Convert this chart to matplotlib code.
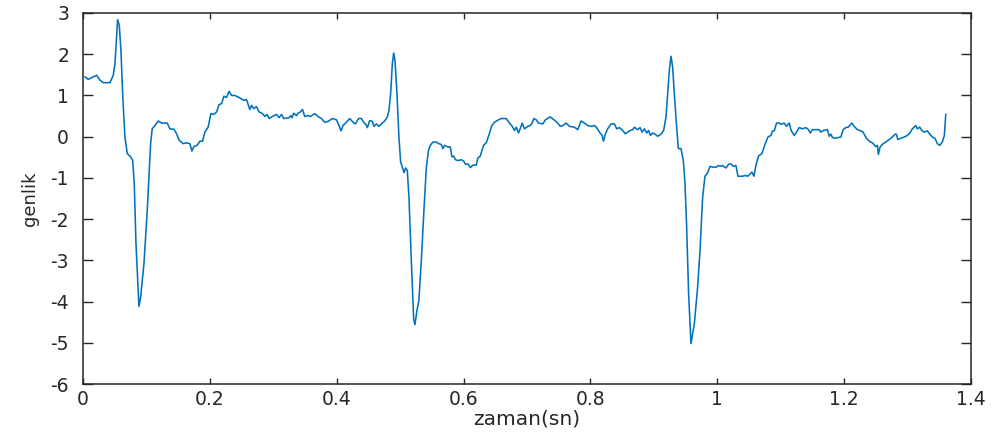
import matplotlib
matplotlib.use("Agg")
import matplotlib.pyplot as plt

# ECG-like amplitude trace: time (s) and amplitude values
zaman = [
    0.0031, 0.0083, 0.0162, 0.0216, 0.0268, 0.0320, 0.0425, 0.0477, 0.0504, 0.0546,
    0.0572, 0.0598, 0.0625, 0.0661, 0.0698, 0.0751, 0.0783, 0.0808, 0.0835, 0.0882,
    0.0909, 0.0961, 0.1013, 0.1066, 0.1091, 0.1134, 0.1186, 0.1239, 0.1328, 0.1370,
    0.1433, 0.1476, 0.1517, 0.1580, 0.1633, 0.1685, 0.1717, 0.1748, 0.1800, 0.1843,
    0.1885, 0.1921, 0.1973, 0.2016, 0.2063, 0.2106, 0.2146, 0.2184, 0.2220, 0.2263,
    0.2304, 0.2342, 0.2394, 0.2461, 0.2535, 0.2578, 0.2630, 0.2657, 0.2693, 0.2735,
    0.2776, 0.2830, 0.2866, 0.2902, 0.2934, 0.2987, 0.3050, 0.3091, 0.3129, 0.3165,
    0.3249, 0.3276, 0.3296, 0.3323, 0.3365, 0.3391, 0.3428, 0.3460, 0.3496, 0.3548,
    0.3586, 0.3654, 0.3706, 0.3759, 0.3811, 0.3863, 0.3932, 0.3995, 0.4036, 0.4068,
    0.4099, 0.4153, 0.4205, 0.4257, 0.4294, 0.4346, 0.4389, 0.4425, 0.4457, 0.4483,
    0.4520, 0.4562, 0.4587, 0.4625, 0.4666, 0.4704, 0.4756, 0.4798, 0.4824, 0.4850,
    0.4877, 0.4898, 0.4918, 0.4950, 0.4981, 0.5008, 0.5035, 0.5060, 0.5087, 0.5113,
    0.5139, 0.5176, 0.5213, 0.5233, 0.5265, 0.5296, 0.5334, 0.5375, 0.5413, 0.5449,
    0.5476, 0.5517, 0.5570, 0.5611, 0.5649, 0.5674, 0.5701, 0.5753, 0.5791, 0.5816,
    0.5843, 0.5874, 0.5910, 0.5964, 0.6000, 0.6031, 0.6068, 0.6106, 0.6146, 0.6200,
    0.6225, 0.6263, 0.6315, 0.6357, 0.6398, 0.6446, 0.6488, 0.6540, 0.6594, 0.6672,
    0.6724, 0.6767, 0.6803, 0.6830, 0.6866, 0.6893, 0.6924, 0.6961, 0.7013, 0.7050,
    0.7082, 0.7107, 0.7145, 0.7181, 0.7249, 0.7291, 0.7365, 0.7433, 0.7485, 0.7523,
    0.7564, 0.7617, 0.7669, 0.7748, 0.7800, 0.7854, 0.7906, 0.7957, 0.8011, 0.8063,
    0.8099, 0.8142, 0.8184, 0.8205, 0.8236, 0.8272, 0.8326, 0.8378, 0.8414, 0.8457,
    0.8509, 0.8551, 0.8587, 0.8625, 0.8666, 0.8693, 0.8745, 0.8783, 0.8814, 0.8850,
    0.8887, 0.8918, 0.8945, 0.8981, 0.9019, 0.9060, 0.9113, 0.9154, 0.9192, 0.9217,
    0.9244, 0.9271, 0.9296, 0.9323, 0.9359, 0.9386, 0.9428, 0.9465, 0.9491, 0.9517,
    0.9548, 0.9585, 0.9638, 0.9690, 0.9728, 0.9769, 0.9806, 0.9846, 0.9885, 0.9926,
    0.9980, 1.0020, 1.0058, 1.0083, 1.0137, 1.0178, 1.0216, 1.0252, 1.0294, 1.0326,
    1.0398, 1.0441, 1.0477, 1.0515, 1.0546, 1.0578, 1.0609, 1.0650, 1.0704, 1.0756,
    1.0798, 1.0846, 1.0871, 1.0898, 1.0934, 1.0976, 1.1003, 1.1055, 1.1091, 1.1134,
    1.1165, 1.1213, 1.1249, 1.1291, 1.1343, 1.1397, 1.1438, 1.1465, 1.1501, 1.1554,
    1.1606, 1.1633, 1.1669, 1.1737, 1.1764, 1.1791, 1.1816, 1.1858, 1.1910, 1.1948,
    1.1984, 1.2026, 1.2063, 1.2121, 1.2157, 1.2209, 1.2263, 1.2299, 1.2351, 1.2405,
    1.2446, 1.2499, 1.2524, 1.2540, 1.2567, 1.2614, 1.2657, 1.2693, 1.2735, 1.2772,
    1.2803, 1.2824, 1.2846, 1.2893, 1.2945, 1.2997, 1.3035, 1.3076, 1.3129, 1.3154,
    1.3192, 1.3224, 1.3260, 1.3312, 1.3350, 1.3391, 1.3433, 1.3469, 1.3507, 1.3548,
    1.3580, 1.3602,
]

genlik = [
    1.45, 1.39, 1.45, 1.49, 1.37, 1.31, 1.31, 1.49, 1.77, 2.84,
    2.70, 2.09, 1.04, -0.01, -0.41, -0.49, -0.58, -1.13, -2.59, -4.12,
    -3.89, -3.08, -1.79, -0.17, 0.19, 0.27, 0.38, 0.33, 0.33, 0.19,
    0.18, 0.07, -0.09, -0.17, -0.15, -0.17, -0.35, -0.24, -0.21, -0.11,
    -0.11, 0.11, 0.23, 0.56, 0.54, 0.60, 0.78, 0.80, 0.98, 0.95,
    1.10, 1.00, 1.00, 0.95, 0.88, 0.90, 0.66, 0.76, 0.68, 0.73,
    0.60, 0.56, 0.49, 0.54, 0.44, 0.49, 0.54, 0.46, 0.54, 0.44,
    0.46, 0.51, 0.46, 0.57, 0.51, 0.57, 0.60, 0.66, 0.49, 0.51,
    0.49, 0.56, 0.49, 0.44, 0.35, 0.37, 0.44, 0.41, 0.27, 0.14,
    0.27, 0.35, 0.44, 0.35, 0.31, 0.44, 0.44, 0.35, 0.30, 0.22,
    0.39, 0.37, 0.25, 0.31, 0.25, 0.31, 0.38, 0.48, 0.64, 1.04,
    1.77, 2.03, 1.86, 1.04, -0.01, -0.62, -0.74, -0.87, -0.76, -0.82,
    -1.47, -3.00, -4.42, -4.56, -4.22, -3.97, -3.00, -1.79, -0.74, -0.32,
    -0.21, -0.13, -0.13, -0.17, -0.19, -0.29, -0.21, -0.25, -0.25, -0.49,
    -0.47, -0.56, -0.58, -0.56, -0.59, -0.67, -0.66, -0.75, -0.69, -0.69,
    -0.52, -0.47, -0.21, -0.15, 0.03, 0.27, 0.35, 0.40, 0.44, 0.44,
    0.33, 0.25, 0.15, 0.23, 0.09, 0.19, 0.33, 0.19, 0.25, 0.27,
    0.33, 0.44, 0.41, 0.33, 0.31, 0.41, 0.48, 0.40, 0.33, 0.25,
    0.27, 0.33, 0.25, 0.23, 0.17, 0.38, 0.33, 0.27, 0.25, 0.27,
    0.22, 0.11, 0.03, -0.11, 0.07, 0.19, 0.31, 0.31, 0.19, 0.22,
    0.15, 0.07, 0.11, 0.15, 0.17, 0.23, 0.17, 0.22, 0.11, 0.19,
    0.09, 0.15, 0.03, 0.09, 0.06, 0.01, 0.06, 0.15, 0.48, 1.04,
    1.61, 1.95, 1.69, 1.04, 0.23, -0.29, -0.29, -0.58, -1.14, -2.19,
    -3.81, -5.02, -4.54, -3.65, -2.76, -1.47, -0.96, -0.88, -0.72, -0.74,
    -0.74, -0.70, -0.72, -0.70, -0.76, -0.67, -0.66, -0.72, -0.70, -0.96,
    -0.96, -0.94, -0.96, -0.91, -0.86, -0.96, -0.70, -0.47, -0.41, -0.17,
    -0.01, 0.03, 0.14, 0.14, 0.33, 0.33, 0.30, 0.33, 0.25, 0.33,
    0.15, 0.03, 0.11, 0.22, 0.19, 0.22, 0.17, 0.09, 0.17, 0.17,
    0.17, 0.11, 0.15, 0.17, 0.01, 0.06, -0.02, -0.04, -0.02, -0.01,
    0.17, 0.22, 0.23, 0.33, 0.25, 0.17, 0.14, 0.11, -0.04, -0.12,
    -0.15, -0.24, -0.21, -0.43, -0.25, -0.17, -0.13, -0.09, -0.04, 0.01,
    0.06, 0.06, -0.07, -0.04, -0.01, 0.03, 0.09, 0.19, 0.27, 0.19,
    0.23, 0.15, 0.11, 0.14, 0.06, -0.01, -0.04, -0.17, -0.21, -0.13,
    0.03, 0.54,
]

x_ticks = [0, 0.2, 0.4, 0.6, 0.8, 1.0, 1.2, 1.4]
x_tick_labels = ["0", "0.2", "0.4", "0.6", "0.8", "1", "1.2", "1.4"]
y_ticks = [-6, -5, -4, -3, -2, -1, 0, 1, 2, 3]
y_tick_labels = ["-6", "-5", "-4", "-3", "-2", "-1", "0", "1", "2", "3"]

axis_color = "#262626"
line_color = "#0072BD"

plt.rcParams["font.family"] = ["DejaVu Sans"]

fig = plt.figure(figsize=(9.93, 4.34), dpi=100)
ax = fig.add_axes([83 / 993, 50 / 434, 888 / 993, 371 / 434])

ax.plot(zaman, genlik, color=line_color, linewidth=1.15)

ax.set_xlim(0, 1.4)
ax.set_ylim(-6, 3)
ax.set_xticks(x_ticks)
ax.set_xticklabels(x_tick_labels)
ax.set_yticks(y_ticks)
ax.set_yticklabels(y_tick_labels)

for side in ["left", "right", "top", "bottom"]:
    ax.spines[side].set_color(axis_color)
    ax.spines[side].set_linewidth(1.1)

ax.tick_params(axis="x", direction="in", top=True, length=4, width=1.0,
               color=axis_color, labelcolor=axis_color, labelsize=13.5, pad=4)
ax.tick_params(axis="y", direction="in", right=True, length=7.5, width=1.0,
               color=axis_color, labelcolor=axis_color, labelsize=13.5, pad=10)

ax.set_xlabel("zaman(sn)", fontsize=14.5, color=axis_color, labelpad=1)
ax.set_ylabel("genlik", fontsize=13, color=axis_color, labelpad=8)

fig.savefig("out.png", dpi=100)
